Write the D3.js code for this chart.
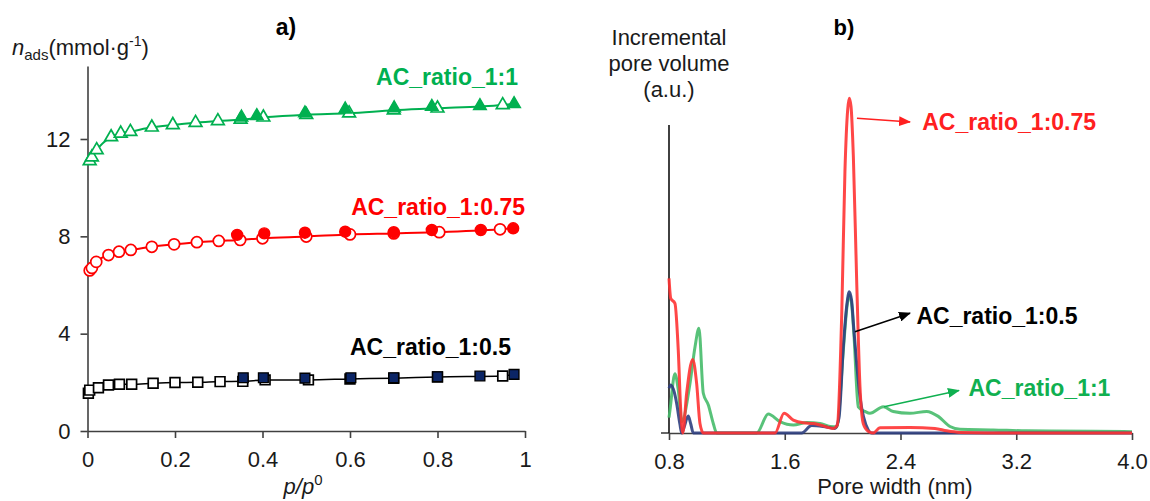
<!DOCTYPE html>
<html>
<head>
<meta charset="utf-8">
<script src="https://cdn.jsdelivr.net/npm/d3@7"></script>
<style>
  body { margin: 0; background: #fff; }
  svg text { font-family: "Liberation Sans", Arial, sans-serif; }
</style>
</head>
<body>
<div id="chart"></div>
<script>
// ---- panel a) isotherms: p/p0 and n_ads (mmol/g) ----
const greenAdsP = [0.005, 0.01, 0.021, 0.054, 0.076, 0.098, 0.147, 0.195, 0.247, 0.298, 0.35, 0.402, 0.5, 0.598, 0.70, 0.80, 0.949];
const greenAdsN = [11.1, 11.25, 11.55, 12.08, 12.23, 12.3, 12.48, 12.58, 12.67, 12.74, 12.8, 12.89, 13.0, 13.06, 13.18, 13.26, 13.4];
const greenDesP = [0.975, 0.897, 0.787, 0.701, 0.589, 0.497, 0.387, 0.352];
const greenDesN = [13.44, 13.36, 13.33, 13.27, 13.22, 13.06, 12.95, 12.89];

const redAdsP = [0.005, 0.01, 0.02, 0.048, 0.072, 0.099, 0.147, 0.198, 0.25, 0.30, 0.349, 0.40, 0.50, 0.60, 0.70, 0.804, 0.943];
const redAdsN = [6.6, 6.7, 6.95, 7.23, 7.37, 7.44, 7.57, 7.67, 7.76, 7.81, 7.85, 7.92, 7.99, 8.08, 8.12, 8.17, 8.29];
const redDesP = [0.973, 0.899, 0.787, 0.70, 0.589, 0.497, 0.404, 0.342];
const redDesN = [8.33, 8.26, 8.26, 8.17, 8.19, 8.15, 8.12, 8.06];

const blackAdsP = [0.002, 0.005, 0.025, 0.048, 0.073, 0.101, 0.15, 0.2, 0.252, 0.303, 0.355, 0.406, 0.505, 0.60, 0.70, 0.80, 0.949];
const blackAdsN = [1.55, 1.68, 1.78, 1.89, 1.92, 1.92, 1.96, 1.99, 2.0, 2.03, 2.04, 2.1, 2.1, 2.14, 2.17, 2.22, 2.26];
const blackDesP = [0.975, 0.897, 0.80, 0.70, 0.602, 0.497, 0.402, 0.356];
const blackDesN = [2.33, 2.26, 2.23, 2.19, 2.19, 2.17, 2.19, 2.19];

const pTicks = [0, 0.2, 0.4, 0.6, 0.8, 1];
const pTickLabels = ['0', '0.2', '0.4', '0.6', '0.8', '1'];
const nTicks = [0, 4, 8, 12];
const nTickLabels = ['0', '4', '8', '12'];

// ---- panel b) pore size distribution: width (nm) and volume (a.u.) ----
const redW = [0.80, 0.812, 0.841, 0.864, 0.881, 0.895, 0.922, 0.964, 0.991, 1.014, 1.037, 1.533, 1.595, 1.659, 1.728, 1.797, 1.844, 1.935, 1.963, 1.994, 2.016, 2.035, 2.046, 2.058, 2.074, 2.097, 2.120, 2.143, 2.178, 2.212, 2.258, 2.465, 2.638, 2.719, 2.811, 3.2, 4.0];
const redV = [5.02, 4.37, 4.21, 2.69, 0.75, 0, 1.29, 2.39, 1.61, 0.31, 0, 0, 0.64, 0.42, 0.33, 0.31, 0.26, 0.15, 0.25, 3.89, 8.5, 10.5, 10.87, 10.6, 9.0, 4.97, 1.5, 0.3, 0.05, 0, 0.17, 0.18, 0.15, 0.07, 0.02, 0, 0];

const navyW = [0.80, 0.812, 0.835, 0.853, 0.875, 0.888, 0.905, 0.933, 0.95, 0.968, 1.717, 1.786, 1.866, 1.947, 1.975, 2.005, 2.030, 2.046, 2.062, 2.078, 2.12, 2.177, 2.2, 4.0];
const navyV = [1.45, 1.56, 1.35, 0.96, 0.3, 0, 0.2, 0.55, 0.3, 0, 0, 0.24, 0.21, 0.15, 0.5, 2.81, 4.2, 4.59, 4.3, 3.34, 1.18, 0.1, 0, 0];

const greenW = [0.80, 0.807, 0.841, 0.864, 0.888, 0.945, 0.980, 1.007, 1.037, 1.072, 1.106, 1.130, 1.406, 1.486, 1.567, 1.659, 1.752, 1.844, 1.913, 1.960, 2.005, 2.030, 2.046, 2.062, 2.078, 2.108, 2.155, 2.189, 2.281, 2.350, 2.465, 2.581, 2.661, 2.742, 2.811, 3.041, 3.272, 3.732, 4.0];
const greenV = [0.5, 0.75, 1.92, 1.40, 0.37, 1.61, 2.8, 3.40, 1.29, 0.91, 0.31, 0, 0, 0.62, 0.37, 0.26, 0.34, 0.31, 0.21, 0.2, 2.7, 4.1, 4.48, 4.2, 3.2, 0.85, 0.70, 0.64, 0.85, 0.70, 0.64, 0.70, 0.54, 0.21, 0.12, 0.10, 0.07, 0.06, 0.04];

const wTicks = [0.8, 1.6, 2.4, 3.2, 4.0];
const wTickLabels = ['0.8', '1.6', '2.4', '3.2', '4.0'];

const W = 1150, H = 501;
const AXIS = '#404040';

const zip = (xs, ys) => xs.map((x, i) => [x, ys[i]]);

const svg = d3.select('#chart').append('svg')
  .attr('width', W)
  .attr('height', H);

const defs = svg.append('defs');
function arrowHead (id, color) {
  defs.append('marker')
    .attr('id', id)
    .attr('viewBox', '0 0 12 10')
    .attr('refX', 11).attr('refY', 5)
    .attr('markerWidth', 12).attr('markerHeight', 10)
    .attr('markerUnits', 'userSpaceOnUse')
    .attr('orient', 'auto')
    .append('path')
    .attr('d', 'M0,0 L12,5 L0,10 Z')
    .attr('fill', color);
}

function styleAxis (g) {
  g.select('.domain').attr('stroke', AXIS).attr('stroke-width', 1.6);
  g.selectAll('.tick line').attr('stroke', AXIS).attr('stroke-width', 1.6);
  g.selectAll('.tick text')
    .attr('font-size', 22)
    .attr('fill', '#1a1a1a')
    .attr('font-family', '"Liberation Sans", Arial, sans-serif');
}

// ================= panel a) =================
const xL = d3.scaleLinear().domain([0, 1]).range([87.5, 525]);
const yL = d3.scaleLinear().domain([0, 15]).range([431, 66]);

svg.append('g')
  .attr('transform', 'translate(0,' + yL(0) + ')')
  .call(d3.axisBottom(xL).tickValues(pTicks)
    .tickFormat((d, i) => pTickLabels[i])
    .tickSize(7).tickSizeOuter(0).tickPadding(13))
  .call(styleAxis);

svg.append('g')
  .attr('transform', 'translate(' + xL(0) + ',0)')
  .call(d3.axisLeft(yL).tickValues(nTicks)
    .tickFormat((d, i) => nTickLabels[i])
    .tickSize(7).tickSizeOuter(0).tickPadding(10))
  .call(styleAxis);

const isotherms = [
  { name: 'AC_ratio_1:1', color: '#00b050', shape: d3.symbolTriangle, size: 70,
    ads: zip(greenAdsP, greenAdsN), des: zip(greenDesP, greenDesN),
    desFill: '#00b050', desStroke: '#00b050', lineW: 2, label: [0.984, 14.22] },
  { name: 'AC_ratio_1:0.75', color: '#ff0000', shape: d3.symbolCircle, size: 95,
    ads: zip(redAdsP, redAdsN), des: zip(redDesP, redDesN),
    desFill: '#ff0000', desStroke: '#ff0000', lineW: 2, label: [1.0, 8.88] },
  { name: 'AC_ratio_1:0.5', color: '#000000', shape: d3.symbolSquare, size: 95,
    ads: zip(blackAdsP, blackAdsN), des: zip(blackDesP, blackDesN),
    desFill: '#0b2566', desStroke: '#000000', lineW: 1.5, label: [0.968, 3.12] }
];

const isoLine = d3.line()
  .x(d => xL(d[0]))
  .y(d => yL(d[1]))
  .curve(d3.curveMonotoneX);

isotherms.forEach(s => {
  const g = svg.append('g');
  g.append('path')
    .datum(s.ads.concat([s.des[0]]))
    .attr('d', isoLine)
    .attr('fill', 'none')
    .attr('stroke', s.color)
    .attr('stroke-width', s.lineW);

  const sym = d3.symbol().type(s.shape).size(s.size);
  g.selectAll('.ads').data(s.ads).enter().append('path')
    .attr('class', 'ads')
    .attr('d', sym)
    .attr('transform', d => 'translate(' + xL(d[0]) + ',' + yL(d[1]) + ')')
    .attr('fill', '#fff')
    .attr('stroke', s.color)
    .attr('stroke-width', 1.7);

  g.selectAll('.des').data(s.des).enter().append('path')
    .attr('class', 'des')
    .attr('d', sym)
    .attr('transform', d => 'translate(' + xL(d[0]) + ',' + yL(d[1]) + ')')
    .attr('fill', s.desFill)
    .attr('stroke', s.desStroke)
    .attr('stroke-width', 1.4);

  svg.append('text')
    .attr('x', xL(s.label[0]))
    .attr('y', yL(s.label[1]))
    .attr('text-anchor', 'end')
    .attr('font-size', 23)
    .attr('font-weight', 'bold')
    .attr('fill', s.color)
    .text(s.name);
});

// axis titles a)
svg.append('text')
  .attr('x', 286).attr('y', 35)
  .attr('text-anchor', 'middle')
  .attr('font-size', 23).attr('font-weight', 'bold')
  .text('a)');

const yTitle = svg.append('text')
  .attr('x', 12).attr('y', 55)
  .attr('font-size', 22).attr('fill', '#1a1a1a');
yTitle.append('tspan').attr('font-style', 'italic').text('n');
yTitle.append('tspan').attr('font-size', 15).attr('dy', 5).text('ads');
yTitle.append('tspan').attr('dy', -5).text('(mmol·g');
yTitle.append('tspan').attr('font-size', 14).attr('dy', -9).text('-1');
yTitle.append('tspan').attr('dy', 9).text(')');

const xTitle = svg.append('text')
  .attr('x', 303).attr('y', 494)
  .attr('text-anchor', 'middle')
  .attr('font-size', 22).attr('fill', '#1a1a1a');
xTitle.append('tspan').attr('font-style', 'italic').text('p/p');
xTitle.append('tspan').attr('font-size', 15).attr('dy', -9).text('0');

// ================= panel b) =================
const xR = d3.scaleLinear().domain([0.8, 4.0]).range([669, 1132]);
const yR = d3.scaleLinear().domain([0, 10]).range([433, 125]);

svg.append('g')
  .attr('transform', 'translate(0,' + yR(0) + ')')
  .call(d3.axisBottom(xR).tickValues(wTicks)
    .tickFormat((d, i) => wTickLabels[i])
    .tickSize(7).tickSizeOuter(0).tickPadding(13))
  .call(styleAxis);

// small stub of the x axis left of the y axis, and the y axis itself
svg.append('line')
  .attr('x1', xR(0.8) - 8).attr('x2', xR(0.8))
  .attr('y1', yR(0)).attr('y2', yR(0))
  .attr('stroke', AXIS).attr('stroke-width', 1.6);
svg.append('line')
  .attr('x1', xR(0.8)).attr('x2', xR(0.8))
  .attr('y1', yR(0)).attr('y2', yR(10))
  .attr('stroke', '#111').attr('stroke-width', 1.6);

const psd = [
  { color: '#46bb6a', pts: zip(greenW, greenV) },
  { color: '#2f3f80', pts: zip(navyW, navyV) },
  { color: '#ff3333', pts: zip(redW, redV) }
];

const psdLine = d3.line()
  .x(d => xR(d[0]))
  .y(d => yR(d[1]))
  .curve(d3.curveMonotoneX);

svg.append('g').selectAll('path').data(psd).enter().append('path')
  .attr('d', d => psdLine(d.pts))
  .attr('fill', 'none')
  .attr('stroke', d => d.color)
  .attr('stroke-width', 3)
  .attr('stroke-linejoin', 'round')
  .attr('opacity', 0.9);

// annotations
const notes = [
  { name: 'AC_ratio_1:0.75', color: '#ff2020', id: 'arR', from: [2.099, 10.22], to: [2.466, 10.1], at: [2.55, 9.85] },
  { name: 'AC_ratio_1:0.5', color: '#000000', id: 'arK', from: [2.085, 3.29], to: [2.466, 3.89], at: [2.51, 3.54] },
  { name: 'AC_ratio_1:1', color: '#10b050', id: 'arG', from: [2.286, 0.85], to: [2.804, 1.38], at: [2.87, 1.19] }
];

notes.forEach(n => {
  arrowHead(n.id, n.color);
  svg.append('line')
    .attr('x1', xR(n.from[0])).attr('y1', yR(n.from[1]))
    .attr('x2', xR(n.to[0])).attr('y2', yR(n.to[1]))
    .attr('stroke', n.color).attr('stroke-width', 1.5)
    .attr('marker-end', 'url(#' + n.id + ')');
  svg.append('text')
    .attr('x', xR(n.at[0])).attr('y', yR(n.at[1]))
    .attr('font-size', 23).attr('font-weight', 'bold')
    .attr('fill', n.color)
    .text(n.name);
});

svg.append('text')
  .attr('x', 844).attr('y', 35)
  .attr('text-anchor', 'middle')
  .attr('font-size', 22).attr('font-weight', 'bold')
  .text('b)');

const yTitleR = svg.append('text')
  .attr('text-anchor', 'middle')
  .attr('font-size', 22).attr('fill', '#1a1a1a');
['Incremental', 'pore volume', '(a.u.)'].forEach((t, i) => {
  yTitleR.append('tspan').attr('x', 669).attr('y', 45 + i * 26).text(t);
});

svg.append('text')
  .attr('x', 895).attr('y', 494)
  .attr('text-anchor', 'middle')
  .attr('font-size', 22).attr('fill', '#1a1a1a')
  .text('Pore width (nm)');
</script>
</body>
</html>
